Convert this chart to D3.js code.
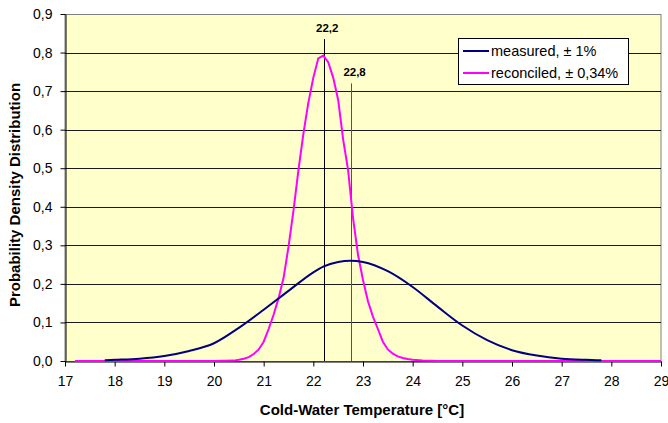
<!DOCTYPE html>
<html>
<head>
<meta charset="utf-8">
<script src="https://cdnjs.cloudflare.com/ajax/libs/d3/7.8.5/d3.min.js"></script>
<style>
  body { margin: 0; background: #fff; }
  svg { font-family: Arial, "Liberation Sans", sans-serif; }
</style>
</head>
<body>
<div class="visHolder"></div>
<script>
// measured curve (temperature, density)
var measuredX = [17.8, 18, 18.5, 19, 19.5, 20, 20.5, 21, 21.5, 22, 22.2, 22.5, 22.75, 23, 23.5, 24, 24.5, 25, 25.5, 26, 26.5, 27, 27.5, 27.8];
var measuredY = [0.002, 0.003, 0.006, 0.013, 0.026, 0.046, 0.086, 0.133, 0.182, 0.230, 0.245, 0.257, 0.260, 0.257, 0.233, 0.192, 0.141, 0.092, 0.054, 0.028, 0.014, 0.006, 0.003, 0.002];

// reconciled curve
var reconciledX = [17.2, 20.0, 20.4, 20.5, 20.6, 20.7, 20.8, 20.9, 21.0, 21.1, 21.2, 21.3, 21.4, 21.5, 21.6, 21.7, 21.8, 21.9, 22.0, 22.1, 22.2, 22.3, 22.4, 22.5, 22.6, 22.7, 22.8, 22.9, 23.0, 23.1, 23.2, 23.3, 23.4, 23.5, 23.6, 23.7, 23.8, 23.9, 24.0, 24.2, 24.5, 29];
var reconciledY = [0, 0, 0.001, 0.003, 0.006, 0.010, 0.018, 0.030, 0.050, 0.083, 0.120, 0.163, 0.215, 0.296, 0.390, 0.495, 0.590, 0.670, 0.735, 0.785, 0.792, 0.775, 0.735, 0.677, 0.575, 0.495, 0.370, 0.275, 0.210, 0.155, 0.115, 0.083, 0.050, 0.030, 0.019, 0.012, 0.008, 0.005, 0.003, 0.001, 0, 0];

// vertical markers
var markerX = [22.22, 22.75];
var markerTop = [0.835, 0.72];
var markerLabel = ["22,2", "22,8"];
var markerColor = ["#000", "#555"];

var seriesNames = ["measured, \u00b1 1%", "reconciled, \u00b1 0,34%"];
var seriesColors = ["#000080", "#ff00ff"];

var xTicks = d3.range(17, 30, 1);
var yTicks = [0, 0.1, 0.2, 0.3, 0.4, 0.5, 0.6, 0.7, 0.8, 0.9];

var width = 668,
    height = 423,
    plotLeft = 65,
    plotRight = 661,
    plotTop = 14,
    plotBottom = 361;

var svg = d3
    .select(".visHolder")
    .append("svg")
    .attr("width", width)
    .attr("height", height);

var xScale = d3.scaleLinear().domain([17, 29]).range([plotLeft, plotRight]);
var yScale = d3.scaleLinear().domain([0, 0.9]).range([plotBottom, plotTop]);

var fmt = function (d) {
    return d3.format(".1f")(d).replace(".", ",");
};

// plot area
svg.append("rect")
    .attr("x", plotLeft)
    .attr("y", plotTop + 0.5)
    .attr("width", plotRight - plotLeft)
    .attr("height", plotBottom - plotTop)
    .style("fill", "#ffffcc")
    .style("stroke", "#808080")
    .style("stroke-width", 1);

// gridlines
svg.append("g")
    .selectAll("line")
    .data(yTicks.slice(1, 9))
    .enter()
    .append("line")
    .attr("x1", plotLeft)
    .attr("x2", plotRight)
    .attr("y1", function (d) { return Math.round(yScale(d)) + 0.5; })
    .attr("y2", function (d) { return Math.round(yScale(d)) + 0.5; })
    .style("stroke", "#1a1a1a")
    .style("stroke-width", 1);

// axes
var yAxis = d3.axisLeft(yScale).tickValues(yTicks).tickSize(5).tickSizeOuter(0).tickPadding(8).tickFormat(fmt);
var gy = svg.append("g")
    .attr("transform", "translate(" + (plotLeft + 0.5) + ",0)")
    .call(yAxis);

var xAxis = d3.axisBottom(xScale).tickValues(xTicks).tickSize(5).tickSizeOuter(0).tickPadding(10).tickFormat(d3.format("d"));
var gx = svg.append("g")
    .attr("transform", "translate(0," + (plotBottom + 0.5) + ")")
    .call(xAxis);

[gx, gy].forEach(function (g) {
    g.selectAll("path").style("stroke", "#000");
    g.selectAll("line").style("stroke", "#000");
    g.selectAll("text")
        .style("font-size", "14px")
        .style("fill", "#000")
        .style("font-family", "Arial, 'Liberation Sans', sans-serif");
});

// marker lines
svg.append("g")
    .selectAll("line")
    .data(markerX)
    .enter()
    .append("line")
    .attr("x1", function (d) { return Math.round(xScale(d)) + 0.5; })
    .attr("x2", function (d) { return Math.round(xScale(d)) + 0.5; })
    .attr("y1", yScale(0))
    .attr("y2", function (d, i) { return yScale(markerTop[i]); })
    .style("stroke", function (d, i) { return markerColor[i]; })
    .style("stroke-width", 1);

svg.append("g")
    .selectAll("text")
    .data(markerX)
    .enter()
    .append("text")
    .attr("x", function (d, i) { return xScale(d) + (i === 0 ? 3 : 4); })
    .attr("y", function (d, i) { return yScale(markerTop[i]) - 7; })
    .attr("text-anchor", "middle")
    .style("font-size", "11.5px")
    .style("font-weight", "bold")
    .text(function (d, i) { return markerLabel[i]; });

// curves
var line = d3.line()
    .x(function (d) { return xScale(d[0]); })
    .y(function (d) { return yScale(d[1]); });

var measured = measuredX.map(function (x, i) { return [x, measuredY[i]]; });
var reconciled = reconciledX.map(function (x, i) { return [x, reconciledY[i]]; });

svg.append("path")
    .datum(reconciled)
    .attr("d", line.curve(d3.curveLinear))
    .style("fill", "none")
    .style("stroke", seriesColors[1])
    .style("stroke-width", 2);

svg.append("path")
    .datum(measured)
    .attr("d", line.curve(d3.curveMonotoneX))
    .style("fill", "none")
    .style("stroke", seriesColors[0])
    .style("stroke-width", 2);

// legend
var legend = svg.append("g");
legend.append("rect")
    .attr("x", 458.5)
    .attr("y", 38.5)
    .attr("width", 170)
    .attr("height", 46)
    .style("fill", "#fff")
    .style("stroke", "#000")
    .style("stroke-width", 1);

seriesNames.forEach(function (name, i) {
    var y = 51 + i * 22;
    legend.append("line")
        .attr("x1", 463)
        .attr("x2", 489)
        .attr("y1", y)
        .attr("y2", y)
        .style("stroke", seriesColors[i])
        .style("stroke-width", 2);
    legend.append("text")
        .attr("x", 491)
        .attr("y", y + 5)
        .style("font-size", "14.5px")
        .text(name);
});

// axis titles
svg.append("text")
    .attr("x", 362)
    .attr("y", 415)
    .attr("text-anchor", "middle")
    .style("font-size", "15px")
    .style("font-weight", "bold")
    .text("Cold-Water Temperature [\u00b0C]");

svg.append("text")
    .attr("transform", "rotate(-90)")
    .attr("x", -195)
    .attr("y", 20)
    .attr("text-anchor", "middle")
    .style("font-size", "15px")
    .style("font-weight", "bold")
    .text("Probability Density Distribution");
</script>
</body>
</html>
